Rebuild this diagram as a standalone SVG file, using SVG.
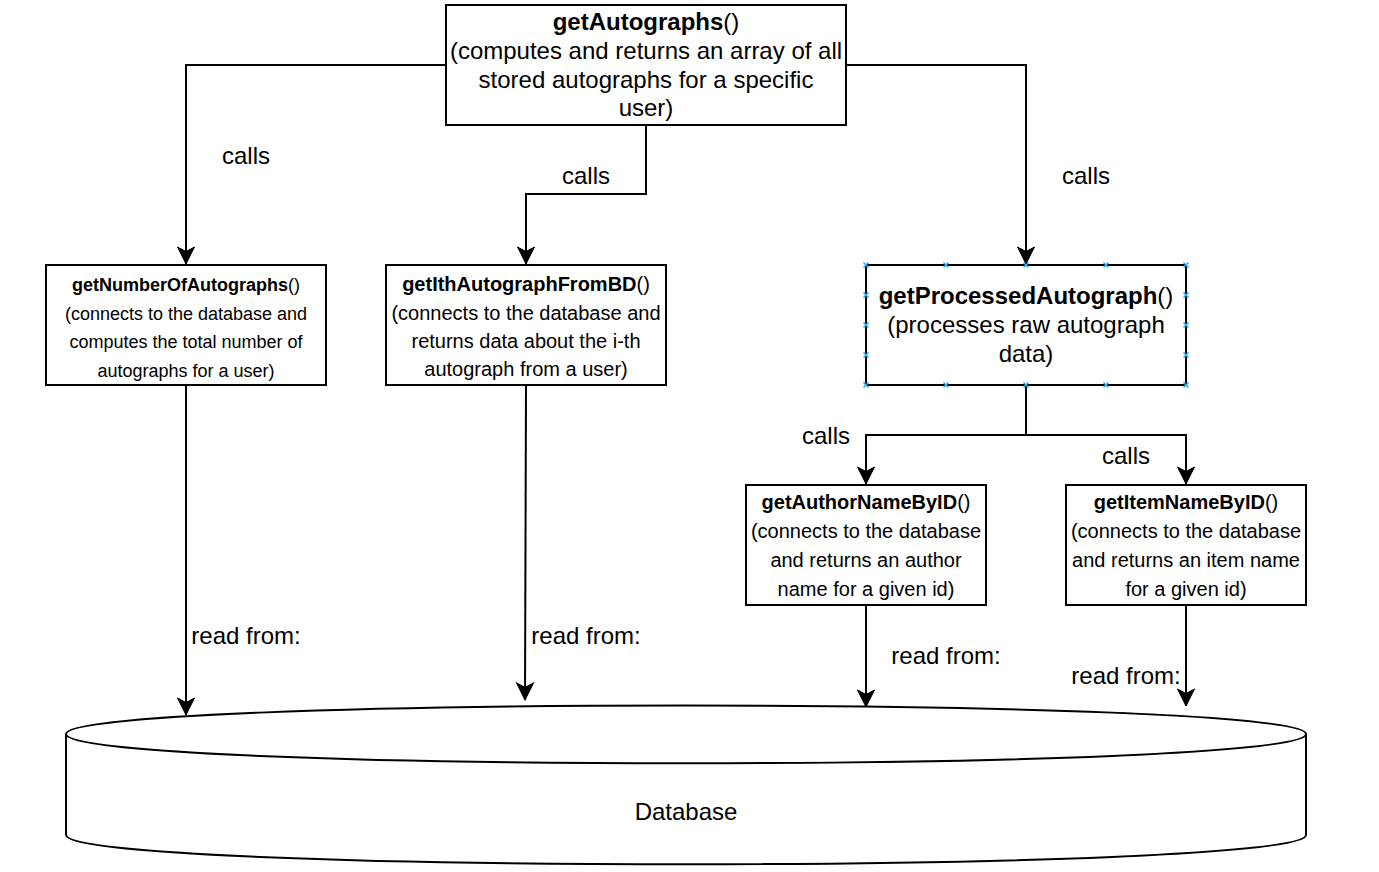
<svg xmlns="http://www.w3.org/2000/svg" width="1379" height="872" viewBox="0 0 1379 872">
<defs>
<style>
.box{fill:#fff;stroke:#000;stroke-width:2}
.edge{fill:none;stroke:#000;stroke-width:2}
text{font-family:"Liberation Sans",Arial,sans-serif;fill:#000;text-anchor:middle}
.b{font-weight:bold}
.lbl{font-size:24px}
.pt{stroke:#29b0e8;stroke-width:1.5;fill:none}
</style>
<marker id="arr" markerUnits="userSpaceOnUse" viewBox="-19 -10 20 20" refX="0" refY="0" markerWidth="20" markerHeight="20" orient="auto">
<path d="M0,0 L-17,-8.5 L-12.5,0 L-17,8.5 Z" fill="#000" stroke="#000" stroke-width="1"/>
</marker>
</defs>
<rect width="1379" height="872" fill="#fff"/>

<g id="edges">
<path class="edge" d="M446,65 L186,65 L186,264" marker-end="url(#arr)"/>
<path class="edge" d="M646,125 L646,194 L526,194 L526,264" marker-end="url(#arr)"/>
<path class="edge" d="M846,65 L1026,65 L1026,264" marker-end="url(#arr)"/>
<path class="edge" d="M1026,385 L1026,435 L866,435 L866,484" marker-end="url(#arr)"/>
<path class="edge" d="M1026,435 L1186,435 L1186,484" marker-end="url(#arr)"/>
<path class="edge" d="M186,385 L186,715" marker-end="url(#arr)"/>
<path class="edge" d="M526,385 L525,700" marker-end="url(#arr)"/>
<path class="edge" d="M866,605 L866,707" marker-end="url(#arr)"/>
<path class="edge" d="M1186,605 L1186,706" marker-end="url(#arr)"/>
<text class="lbl" x="246" y="164">calls</text>
<text class="lbl" x="586" y="184">calls</text>
<text class="lbl" x="1086" y="184">calls</text>
<text class="lbl" x="826" y="444">calls</text>
<text class="lbl" x="1126" y="464">calls</text>
<text class="lbl" x="246" y="644">read from:</text>
<text class="lbl" x="586" y="644">read from:</text>
<text class="lbl" x="946" y="664">read from:</text>
<text class="lbl" x="1126" y="684">read from:</text>
</g>

<g id="database">
<path class="box" d="M66,734 C66,696 1306,696 1306,734 L1306,835 C1306,874 66,874 66,835 Z"/>
<path class="edge" d="M66,734 C66,773 1306,773 1306,734"/>
<text x="686" y="820" style="font-size:24px">Database</text>
</g>

<g id="getAutographs">
<rect class="box" x="446" y="5" width="400" height="120"/>
<text style="font-size:24px"><tspan x="646" y="30"><tspan class="b">getAutographs</tspan>()</tspan><tspan x="646" y="59">(computes and returns an array of all</tspan><tspan x="646" y="88">stored autographs for a specific</tspan><tspan x="646" y="116">user)</tspan></text>
</g>

<g id="getNumberOfAutographs">
<rect class="box" x="46" y="265" width="280" height="120"/>
<text style="font-size:18px"><tspan x="186" y="291"><tspan class="b">getNumberOfAutographs</tspan>()</tspan><tspan x="186" y="320">(connects to the database and</tspan><tspan x="186" y="348">computes the total number of</tspan><tspan x="186" y="377">autographs for a user)</tspan></text>
</g>

<g id="getIthAutographFromBD">
<rect class="box" x="386" y="265" width="280" height="120"/>
<text style="font-size:20px"><tspan x="526" y="291"><tspan class="b">getIthAutographFromBD</tspan>()</tspan><tspan x="526" y="319.5">(connects to the database and</tspan><tspan x="526" y="348">returns data about the i-th</tspan><tspan x="526" y="376">autograph from a user)</tspan></text>
</g>

<g id="getProcessedAutograph">
<rect class="box" x="866" y="265" width="320" height="120"/>
<text style="font-size:24px"><tspan x="1026" y="304"><tspan class="b">getProcessedAutograph</tspan>()</tspan><tspan x="1026" y="333">(processes raw autograph</tspan><tspan x="1026" y="362">data)</tspan></text>
<path class="pt" d="M863.5,262.5l5,5m0,-5l-5,5 M943.5,262.5l5,5m0,-5l-5,5 M1023.5,262.5l5,5m0,-5l-5,5 M1103.5,262.5l5,5m0,-5l-5,5 M1183.5,262.5l5,5m0,-5l-5,5 M863.5,382.5l5,5m0,-5l-5,5 M943.5,382.5l5,5m0,-5l-5,5 M1023.5,382.5l5,5m0,-5l-5,5 M1103.5,382.5l5,5m0,-5l-5,5 M1183.5,382.5l5,5m0,-5l-5,5 M863.5,292.5l5,5m0,-5l-5,5 M863.5,322.5l5,5m0,-5l-5,5 M863.5,352.5l5,5m0,-5l-5,5 M1183.5,292.5l5,5m0,-5l-5,5 M1183.5,322.5l5,5m0,-5l-5,5 M1183.5,352.5l5,5m0,-5l-5,5"/>
</g>

<g id="getAuthorNameByID">
<rect class="box" x="746" y="485" width="240" height="120"/>
<text style="font-size:20px"><tspan x="866" y="509"><tspan class="b">getAuthorNameByID</tspan>()</tspan><tspan x="866" y="538">(connects to the database</tspan><tspan x="866" y="567">and returns an author</tspan><tspan x="866" y="596">name for a given id)</tspan></text>
</g>

<g id="getItemNameByID">
<rect class="box" x="1066" y="485" width="240" height="120"/>
<text style="font-size:20px"><tspan x="1186" y="509"><tspan class="b">getItemNameByID</tspan>()</tspan><tspan x="1186" y="538">(connects to the database</tspan><tspan x="1186" y="567">and returns an item name</tspan><tspan x="1186" y="596">for a given id)</tspan></text>
</g>
</svg>
